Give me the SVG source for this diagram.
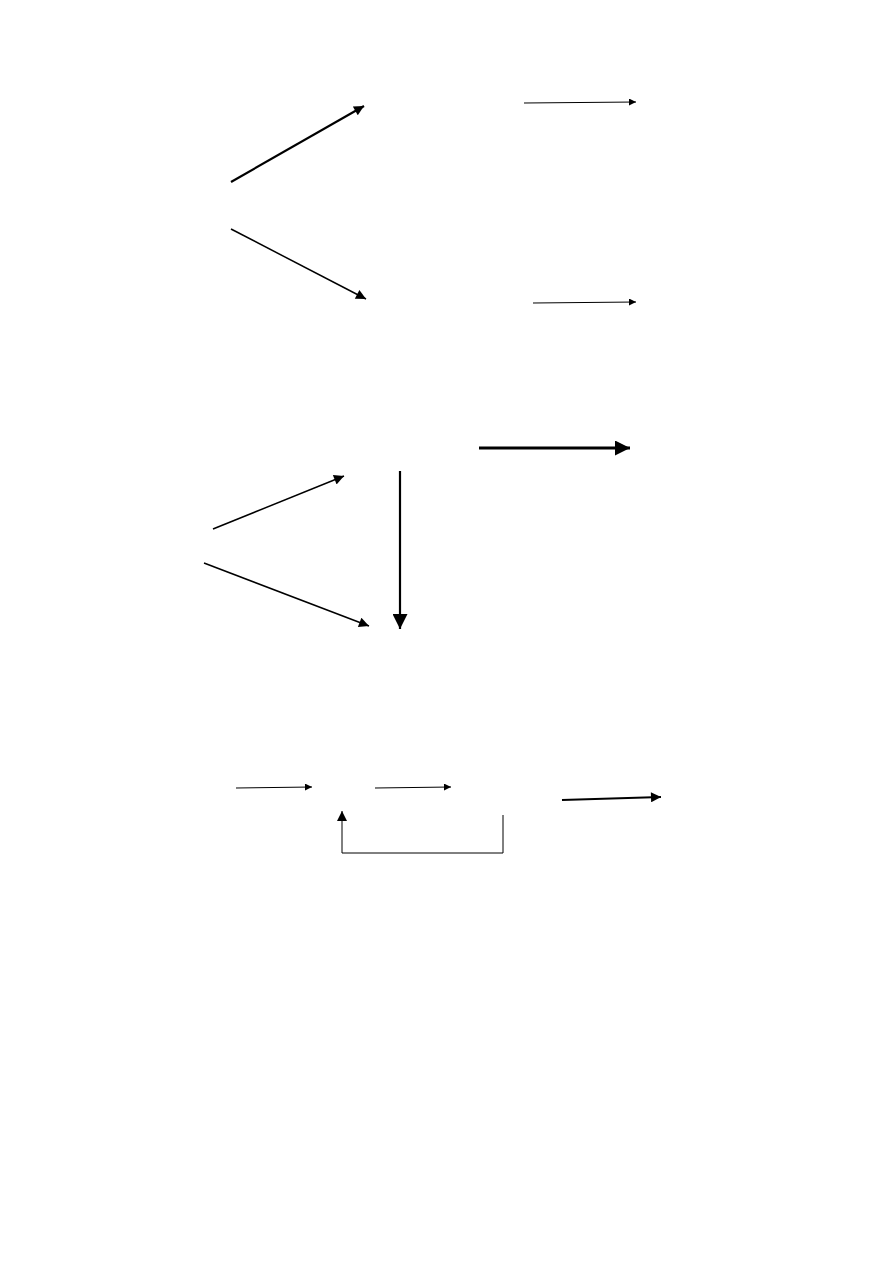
<svg xmlns="http://www.w3.org/2000/svg" width="893" height="1263" viewBox="0 0 893 1263">
<style>
.c{fill:none;stroke:#000;stroke-linecap:butt}
.t1{stroke-width:1}
.t15{stroke-width:1.5}
.t2{stroke-width:2.2}
.t3{stroke-width:3}
</style>
<defs>
<marker id="hs" markerUnits="userSpaceOnUse" viewBox="0 0 10 10" refX="10" refY="5" markerWidth="10" markerHeight="7" orient="auto"><path d="M0,0L10,5L0,10Z" fill="#000"/></marker>
<marker id="hm" markerUnits="userSpaceOnUse" viewBox="0 0 10 10" refX="10" refY="5" markerWidth="14" markerHeight="10" orient="auto"><path d="M0,0L10,5L0,10Z" fill="#000"/></marker>
<marker id="hl" markerUnits="userSpaceOnUse" viewBox="0 0 10 10" refX="10" refY="5" markerWidth="15" markerHeight="15" orient="auto"><path d="M0,0L10,5L0,10Z" fill="#000"/></marker>
</defs>
<rect width="893" height="1263" fill="#fff"/>
<g id="connectors">
<line class="c t2" x1="231" y1="182" x2="364" y2="106" marker-end="url(#hm)"/>
<line class="c t15" x1="231" y1="229" x2="366" y2="299" marker-end="url(#hm)"/>
<line class="c t1" x1="524" y1="103" x2="636" y2="102" marker-end="url(#hs)"/>
<line class="c t1" x1="533" y1="303" x2="636" y2="302" marker-end="url(#hs)"/>
<line class="c t3" x1="479" y1="448" x2="630" y2="448" marker-end="url(#hl)"/>
<line class="c t15" x1="213" y1="529" x2="344" y2="476" marker-end="url(#hm)"/>
<line class="c t15" x1="204" y1="563" x2="369" y2="626" marker-end="url(#hm)"/>
<line class="c t2" x1="400" y1="471" x2="400" y2="629" marker-end="url(#hl)"/>
<line class="c t1" x1="236" y1="788" x2="312" y2="787" marker-end="url(#hs)"/>
<line class="c t1" x1="375" y1="788" x2="451" y2="787" marker-end="url(#hs)"/>
<line class="c t2" x1="562" y1="800" x2="661" y2="797" marker-end="url(#hm)"/>
<polyline class="c t1" points="503,815 503,853 342,853 342,811" marker-end="url(#hm)"/>
</g>
</svg>
